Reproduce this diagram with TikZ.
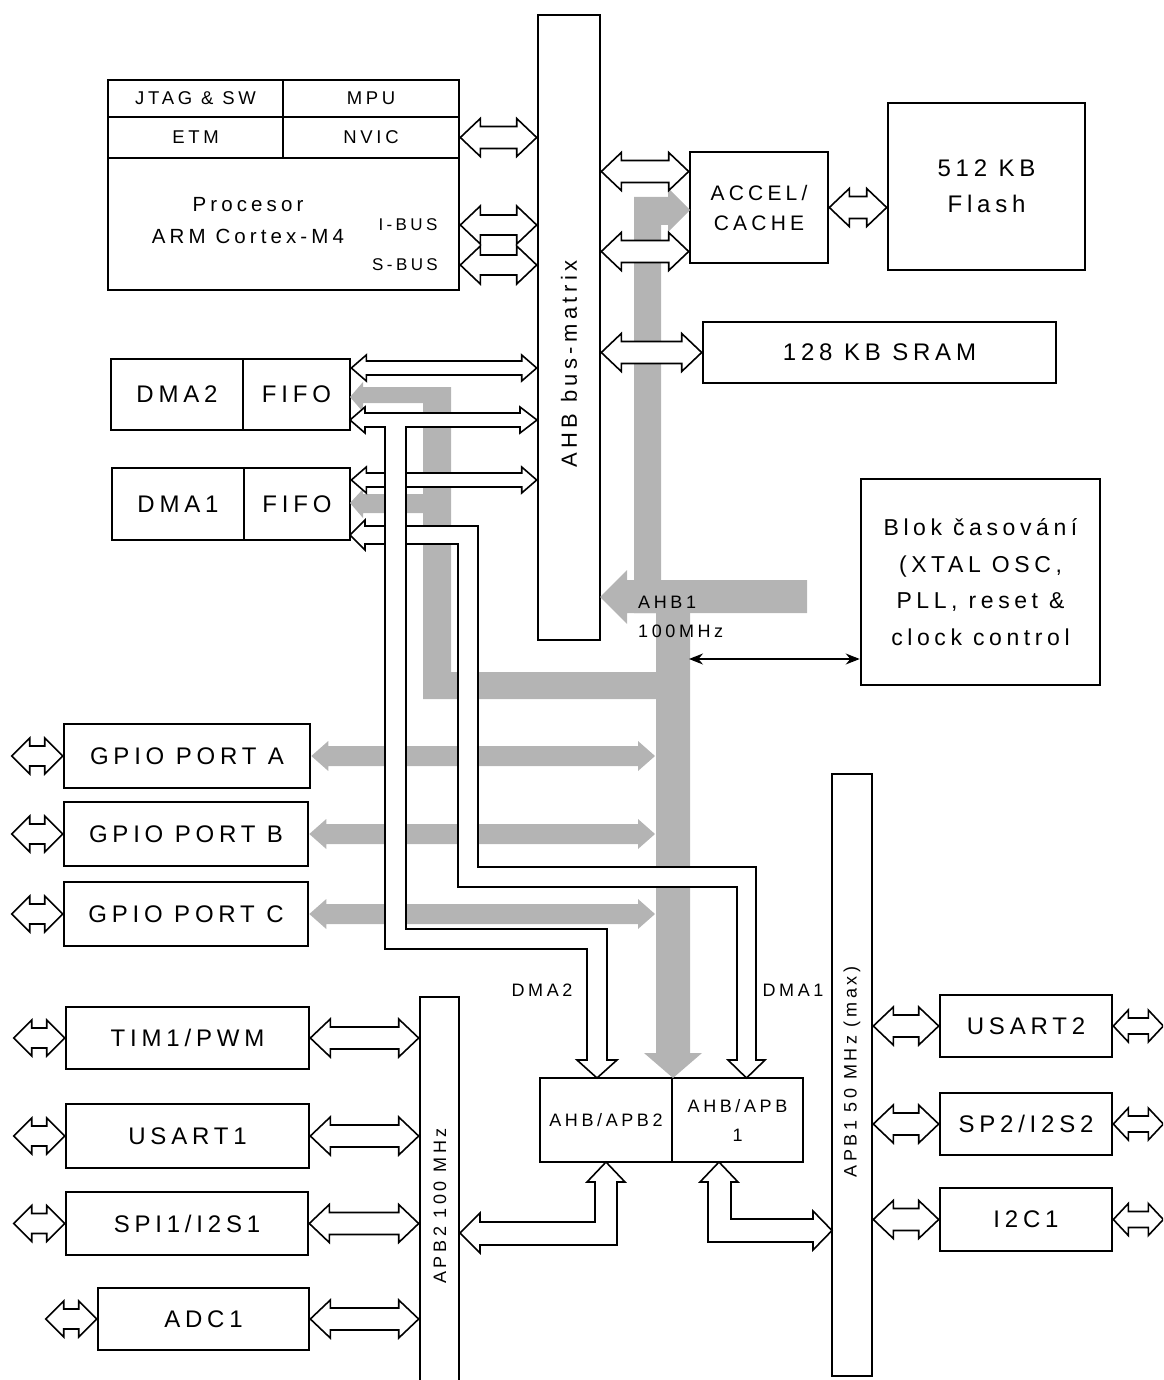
\documentclass[tikz,border=0pt]{standalone}
\usepackage{fontspec}
\setmainfont{Liberation Sans}[LetterSpace=20]
\usetikzlibrary{calc,arrows.meta}
\definecolor{busgray}{RGB}{180,180,180}
\newcommand{\sz}[2]{\fontsize{#1}{#2}\selectfont}

\begin{document}
\begin{tikzpicture}[x=1pt, y=-1pt, >={Stealth[length=14pt,width=11pt]}, line join=miter]
  \tikzset{box/.style={draw, line width=2.6pt, fill=white, inner sep=0pt, align=center},
    lbl/.style={inner sep=0pt},
    bus/.style n args={3}{line width=1.6pt,
      to path={let \p1=(\tikztostart), \p2=(\tikztotarget) in
        (\x1,\y1) -- (\x1+#3,\y1+#2) -- (\x1+#3,\y1+#1) -- (\x2-#3,\y1+#1)
        -- (\x2-#3,\y1+#2) -- (\x2,\y1) -- (\x2-#3,\y1-#2) -- (\x2-#3,\y1-#1)
        -- (\x1+#3,\y1-#1) -- (\x1+#3,\y1-#2) -- cycle}},
    fatbus/.style={bus={11pt}{19pt}{20pt}, draw, fill=white},
    cpubus/.style={bus={10pt}{19pt}{20pt}, draw, fill=white},
    extbus/.style={bus={10pt}{18pt}{18pt}, draw, fill=white},
    smallbus/.style={bus={8pt}{16pt}{15pt}, draw, fill=white},
    thinbus/.style={bus={7pt}{13pt}{15pt}, draw, fill=white},
    graybus/.style={bus={10pt}{15pt}{17pt}, fill=busgray},
    hollow/.style={draw, fill=white, line width=1.6pt}}
  \useasboundingbox (0,0) rectangle (1163,1380);
  \clip (0,0) rectangle (1163,1380);

  % processor and bus matrix
  \node[box, minimum width=351pt, minimum height=210pt] (proc) at (283.5,185) {};
  \node[box, minimum width=175pt, minimum height=37pt, font=\sz{18.5}{22}] (jtag) at (195.5,98.5) {JTAG \& SW};
  \node[box, minimum width=176pt, minimum height=37pt, font=\sz{18.5}{22}] (mpu) at (371,98.5) {MPU};
  \node[box, minimum width=175pt, minimum height=41pt, font=\sz{18.5}{22}] (etm) at (195.5,137.5) {ETM};
  \node[box, minimum width=176pt, minimum height=41pt, font=\sz{18.5}{22}] (nvic) at (371,137.5) {NVIC};
  \node[lbl, align=center, font=\sz{20.5}{32}] (proclbl) at (248,221) {Procesor\\ARM Cortex-M4};
  \node[lbl, font=\sz{17}{20}] (ibus) at (408,225) {I-BUS};
  \node[lbl, font=\sz{17}{20}] (sbus) at (405,265) {S-BUS};
  \node[box, minimum width=62pt, minimum height=625pt] (ahb) at (569,327.5) {};
  \node[lbl, rotate=90, font=\sz{22}{26}] (ahblbl) at (569,364) {AHB bus-matrix};

  % memories
  \node[box, minimum width=138pt, minimum height=111pt, font=\sz{21}{30}] (accel) at (759,207.5) {ACCEL/\\CACHE};
  \node[box, minimum width=197pt, minimum height=167pt, font=\sz{24}{36}] (flash) at (986.5,186.5) {512 KB\\Flash};
  \node[box, minimum width=353pt, minimum height=61pt, font=\sz{24}{28}] (sram) at (879.5,352.5) {128 KB SRAM};

  % DMA
  \node[box, minimum width=132pt, minimum height=71pt, font=\sz{24}{28}] (dmatwo) at (177,394.5) {DMA2};
  \node[box, minimum width=107pt, minimum height=71pt, font=\sz{24}{28}] (fifotwo) at (296.5,394.5) {FIFO};
  \node[box, minimum width=132pt, minimum height=72pt, font=\sz{24}{28}] (dmaone) at (178,504) {DMA1};
  \node[box, minimum width=106pt, minimum height=72pt, font=\sz{24}{28}] (fifoone) at (297,504) {FIFO};

  \node[box, minimum width=239pt, minimum height=206pt, font=\sz{23}{36.5}] (clk) at (980.5,582)
    {Blok časování\\(XTAL OSC,\\PLL, reset \&\\clock control};

  % peripherals
  \node[box, minimum width=246pt, minimum height=64pt, font=\sz{24}{28}] (gpioa) at (187,756) {GPIO PORT A};
  \node[box, minimum width=244pt, minimum height=64pt, font=\sz{24}{28}] (gpiob) at (186,834) {GPIO PORT B};
  \node[box, minimum width=244pt, minimum height=64pt, font=\sz{24}{28}] (gpioc) at (186,914) {GPIO PORT C};
  \node[box, minimum width=243pt, minimum height=62pt, font=\sz{24}{28}] (tim) at (187.5,1038) {TIM1/PWM};
  \node[box, minimum width=243pt, minimum height=64pt, font=\sz{24}{28}] (usartone) at (187.5,1136) {USART1};
  \node[box, minimum width=242pt, minimum height=63pt, font=\sz{24}{28}] (spione) at (187,1223.5) {SPI1/I2S1};
  \node[box, minimum width=211pt, minimum height=62pt, font=\sz{24}{28}] (adc) at (203.5,1319) {ADC1};
  \node[box, minimum width=39pt, minimum height=400pt] (apbtwo) at (439.5,1197) {};
  \node[lbl, rotate=90, font=\sz{18}{22}] (apbtwolbl) at (440,1206) {APB2 100 MHz};
  \node[box, minimum width=40pt, minimum height=602pt] (apbone) at (852,1075) {};
  \node[lbl, rotate=90, font=\sz{18}{22}] (apbonelbl) at (852,1072) {APB1 50 MHz (max)};
  \node[box, minimum width=132pt, minimum height=84pt, font=\sz{18}{29}] (ahbapbtwo) at (606,1120) {AHB/APB2};
  \node[box, minimum width=131pt, minimum height=84pt, font=\sz{18}{29}] (ahbapbone) at (737.5,1120) {AHB/APB\\1};
  \node[box, minimum width=172pt, minimum height=62pt, font=\sz{24}{28}] (usarttwo) at (1026,1026) {USART2};
  \node[box, minimum width=172pt, minimum height=62pt, font=\sz{24}{28}] (spitwo) at (1026,1124) {SP2/I2S2};
  \node[box, minimum width=172pt, minimum height=63pt, font=\sz{24}{28}] (ictwo) at (1026,1219.5) {I2C1};

  % AHB1 bus (gray)
  \fill[busgray] (807,580) -- (627,580) -- (627,570) -- (600,597) -- (627,624) -- (627,613) -- (807,613) -- cycle;
  \fill[busgray] (634,613) -- (634,197) -- (668,197) -- (668,188) -- (690,210) -- (668,232) -- (668,225)
    -- (661,225) -- (661,613) -- cycle;
  \fill[busgray] (656,580) -- (690,580) -- (690,1053) -- (702,1053) -- (673,1078) -- (644,1053) -- (656,1053) -- cycle;
  \fill[busgray] (350,397) -- (363,382) -- (363,387) -- (451,387) -- (451,672) -- (660,672) -- (660,699)
    -- (423,699) -- (423,513) -- (363,513) -- (363,518) -- (350,503) -- (363,489) -- (363,494) -- (423,494)
    -- (423,403) -- (363,403) -- (363,412) -- cycle;
  \coordinate (ahbonebus) at (655,914);
  \foreach \per in {gpioa,gpiob,gpioc}
    \path[graybus] (\per.east) to (\per.east -| ahbonebus);

  % processor and memory links
  \draw[fatbus] (nvic.east) to (nvic.east -| ahb.west);
  \draw[cpubus] (proc.east |- ibus) to (ahb.west |- ibus);
  \draw[cpubus] (proc.east |- sbus) to (ahb.west |- sbus);
  \coordinate (acctop) at ([yshift=36pt]accel.west);
  \coordinate (accbot) at ([yshift=-44pt]accel.west);
  \draw[fatbus] (acctop -| ahb.east) to (acctop);
  \draw[fatbus] (accbot -| ahb.east) to (accbot);
  \draw[fatbus] (accel.east) to (accel.east -| flash.west);
  \draw[fatbus] (sram.west -| ahb.east) to (sram.west);

  % DMA links
  \coordinate (dmatwoa) at ([yshift=26.5pt]fifotwo.east);
  \coordinate (dmaonea) at ([yshift=24pt]fifoone.east);
  \draw[thinbus] (dmatwoa) to (dmatwoa -| ahb.west);
  \draw[thinbus] (dmaonea) to (dmaonea -| ahb.west);
  \draw[hollow] (350,535) -- (365,520) -- (365,526) -- (478,526) -- (478,867) -- (756,867) -- (756,1060)
    -- (765,1060) -- (746.5,1078) -- (728,1060) -- (737,1060) -- (737,887) -- (458,887) -- (458,544)
    -- (365,544) -- (365,550) -- cycle;
  \draw[hollow] (350,420) -- (365,407) -- (365,413) -- (520,413) -- (520,407) -- (537,420) -- (520,433)
    -- (520,427) -- (406,427) -- (406,929) -- (607,929) -- (607,1060) -- (617,1060) -- (597,1078)
    -- (577,1060) -- (587,1060) -- (587,949) -- (385,949) -- (385,427) -- (365,427) -- (365,433) -- cycle;

  % APB links
  \draw[hollow] (606,1162) -- (625,1182) -- (617,1182) -- (617,1245) -- (480,1245) -- (480,1253) -- (460,1233)
    -- (480,1213) -- (480,1222) -- (595,1222) -- (595,1182) -- (587,1182) -- cycle;
  \draw[hollow] (719,1162) -- (738,1182) -- (731,1182) -- (731,1219) -- (813,1219) -- (813,1211) -- (832,1230.5)
    -- (813,1250) -- (813,1242) -- (708,1242) -- (708,1182) -- (700,1182) -- cycle;
  \foreach \per in {gpioa,gpiob,gpioc,tim,usartone,spione,adc}
    \draw[extbus] ([xshift=-51pt]\per.west) to (\per.west);
  \foreach \per in {tim,usartone,spione,adc}
    \draw[fatbus] (\per.east) to (\per.east -| apbtwo.west);
  \foreach \per in {usarttwo,spitwo,ictwo} {
    \draw[fatbus] (\per.west -| apbone.east) to (\per.west);
    \draw[smallbus] (\per.east) to ([xshift=50pt]\per.east);
  }

  % clock
  \coordinate (clkbus) at (689,659);
  \draw[<->, line width=1.2pt] (clkbus) -- (clkbus -| clk.west);

  \node[lbl, align=left, anchor=west, font=\sz{18}{29}] (ahbonelbl) at (638,617) {AHB1\\100MHz};
  \node[lbl, font=\sz{18}{22}] (dmatwolbl) at (542,990) {DMA2};
  \node[lbl, font=\sz{18}{22}] (dmaonelbl) at (793,990) {DMA1};
\end{tikzpicture}
\end{document}
